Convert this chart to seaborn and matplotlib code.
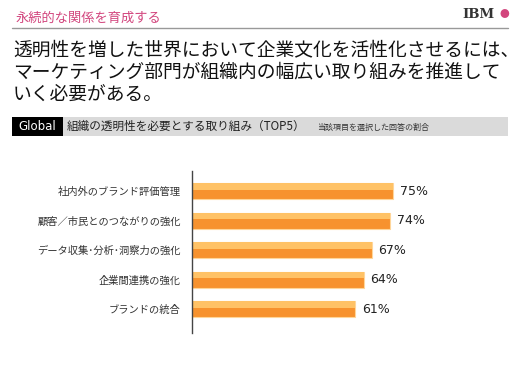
import numpy as np
import pandas as pd
import seaborn as sns
import matplotlib.pyplot as plt
from matplotlib.patches import Rectangle

# données
categories = ['社内外のブランド評価管理', '顧客／市民とのつながりの強化',
              'データ収集･分析･洞察力の強化', '企業間連携の強化', 'ブランドの統合']
valeurs = [75, 74, 67, 64, 61]
etiquettes = ['75%', '74%', '67%', '64%', '61%']

sns.set_style('white')
plt.rcParams['font.family'] = ['Noto Sans CJK JP', 'DejaVu Sans']

W, H = 520, 381
fig = plt.figure(figsize=(W / 100, H / 100), dpi=100)

def px(x, y):
    return x / W, 1 - y / H

# en-tête
fig.text(*px(16, 18), '永続的な関係を育成する', color='#D2457D', fontsize=9.5, va='center')
fig.add_artist(plt.Line2D([12 / W, 508 / W], [1 - 28 / H] * 2, color='#999999', lw=1))
fig.text(*px(462, 14), 'IBM', color='#333333', fontsize=9.5, fontweight='bold',
         family='DejaVu Serif', va='center')
fig.text(*px(504, 14), '●', color='#D2457D', fontsize=7, va='center', ha='center')

# titre
titre = ['透明性を増した世界において企業文化を活性化させるには、',
         'マーケティング部門が組織内の幅広い取り組みを推進して',
         'いく必要がある。']
for i, ligne in enumerate(titre):
    fig.text(*px(13, 50 + 22 * i), ligne, fontsize=13.5, color='#111111', va='center')

# bandeau
fig.add_artist(Rectangle(px(12, 136), 496 / W, 19 / H, transform=fig.transFigure,
                         facecolor='#DADADA', edgecolor='none'))
fig.add_artist(Rectangle(px(12, 136), 51 / W, 19 / H, transform=fig.transFigure,
                         facecolor='black', edgecolor='none'))
fig.text(*px(37, 126.5), 'Global', color='white', fontsize=8.5, ha='center', va='center',
         family='DejaVu Sans')
fig.text(*px(67, 126.5), '組織の透明性を必要とする取り組み（TOP5）', fontsize=8.4,
         color='#222222', va='center')
fig.text(*px(317, 127), '当該項目を選択した回答の割合', fontsize=5.8,
         color='#333333', va='center')

# graphique
ax = fig.add_axes([192 / W, 1 - 333 / H, 268 / W, 162 / H])
df = pd.DataFrame({'categorie': categories, 'valeur': valeurs})
sns.barplot(data=df, x='valeur', y='categorie', color='#F7922E', width=0.54,
            edgecolor='#FFD69A', linewidth=0.8, saturation=1, ax=ax)

# reflet clair en haut de chaque barre
for p in ax.patches[:len(valeurs)]:
    x0, y0 = p.get_x(), p.get_y()
    ax.add_patch(Rectangle((x0, y0), p.get_width(), p.get_height() * 0.4,
                           facecolor='#FFC266', edgecolor='none'))

for i, (v, t) in enumerate(zip(valeurs, etiquettes)):
    ax.text(v + 2.6, i, t, va='center', ha='left', fontsize=9, color='#222222',
            family='DejaVu Sans')

ax.set_xlim(0, 100)
ax.set_ylim(4.8, -0.68)
ax.set_xlabel('')
ax.set_ylabel('')
ax.set_xticks([])
for s in ['top', 'right', 'bottom']:
    ax.spines[s].set_visible(False)
ax.spines['left'].set_color('#444444')
ax.spines['left'].set_linewidth(1)
ax.tick_params(axis='y', length=0, pad=8, labelsize=7.4, labelcolor='#333333')

fig.savefig('out.png', dpi=100)
